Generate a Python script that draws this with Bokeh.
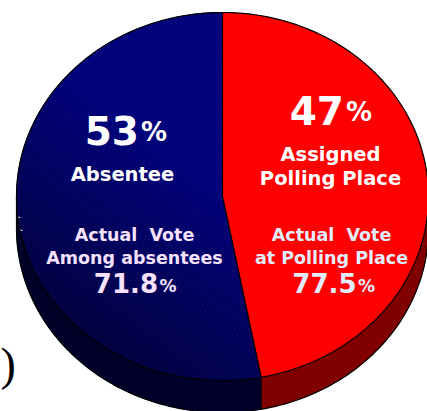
import numpy as np
from bokeh.plotting import figure
from bokeh.models import Range1d, ColumnDataSource
from bokeh.core.properties import value
from bokeh.embed import file_html
from bokeh.resources import INLINE

# ---------------- data ----------------
categories = ["Assigned Polling Place", "Absentee"]
category_lines = [["Assigned", "Polling Place"], ["Absentee"]]
shares = [47, 53]
turnout_lines = [["Actual\u00a0 Vote", "at Polling Place"], ["Actual\u00a0 Vote", "Among absentees"]]
turnout = [77.5, 71.8]

# ---------------- style / layout ----------------
W, H = 427, 411
CX, CY, RX, RY, DEPTH = 222, 196, 206, 184, 32
top_colors = ["#ff0000", None]          # None -> gradient navy
side_colors = ["#800000", "#000028"]
FONT = "DejaVu Sans"

p = figure(width=W, height=H, x_range=Range1d(0, W), y_range=Range1d(H, 0),
           output_backend="svg", toolbar_location=None, min_border=0)
p.axis.visible = False
p.grid.visible = False
p.outline_line_color = None
p.background_fill_color = "white"
p.border_fill_color = "white"


def ell(t, dy=0.0):
    t = np.asarray(t)
    return CX + RX * np.sin(t), CY - RY * np.cos(t) + dy


def clip(poly, nx, ny, c):
    """keep part of polygon where nx*x+ny*y <= c"""
    out = []
    n = len(poly)
    for i in range(n):
        a = poly[i]
        b = poly[(i + 1) % n]
        fa = nx * a[0] + ny * a[1] - c
        fb = nx * b[0] + ny * b[1] - c
        if fa <= 0:
            out.append(a)
        if (fa < 0 < fb) or (fb < 0 < fa):
            r = fa / (fa - fb)
            out.append((a[0] + r * (b[0] - a[0]), a[1] + r * (b[1] - a[1])))
    return out


total = float(sum(shares))
bounds = []
acc = 0.0
for s in shares:
    a0 = 2 * np.pi * acc / total
    acc += s
    a1 = 2 * np.pi * acc / total
    bounds.append((a0, a1))

# ---------- sides ----------
side_xs, side_ys, side_fc = [], [], []
for (a0, a1), col in zip(bounds, side_colors):
    lo, hi = max(a0, np.pi / 2), min(a1, 3 * np.pi / 2)
    if hi <= lo:
        continue
    t = np.linspace(lo, hi, 120)
    x1, y1 = ell(t)
    x2, y2 = ell(t[::-1], DEPTH)
    side_xs.append(list(x1) + list(x2))
    side_ys.append(list(y1) + list(y2))
    side_fc.append(col)
p.patches(side_xs, side_ys, fill_color=side_fc, line_color=side_fc, line_width=0.5)

# ---------- tops ----------
for (a0, a1), col in zip(bounds, top_colors):
    t = np.linspace(a0, a1, 240)
    x, y = ell(t)
    poly = [(CX, CY)] + list(zip(x, y))
    if col is not None:
        p.patch([q[0] for q in poly], [q[1] for q in poly], fill_color=col,
                line_color=col, line_width=0.5)
    else:
        n = np.array([-0.6, 0.8])
        svals = [n[0] * (q[0] - CX) + n[1] * (q[1] - CY) for q in poly]
        smin, smax = min(svals), max(svals)
        step = 3.0
        xs, ys, fcs = [], [], []
        c = smin
        while c < smax:
            piece = clip(poly, n[0], n[1], c + step + n[0] * CX + n[1] * CY)
            piece = clip(piece, -n[0], -n[1], -(c + n[0] * CX + n[1] * CY))
            if len(piece) >= 3:
                sm = c + step / 2
                inten = int(np.clip(122 - 0.3 * max(sm, 0), 58, 122))
                colr = "#0000%02x" % inten
                xs.append([q[0] for q in piece])
                ys.append([q[1] for q in piece])
                fcs.append(colr)
            c += step
        p.patches(xs, ys, fill_color=fcs, line_color=fcs, line_width=0.8)

# ---------- outlines ----------
tt = np.linspace(0, 2 * np.pi, 400)
ox, oy = ell(tt)
p.line(ox, oy, line_color="black", line_width=1.2)
tb = np.linspace(np.pi / 2, 3 * np.pi / 2, 200)
bx, by = ell(tb, DEPTH)
p.line(bx, by, line_color="black", line_width=1.2)
for tv in (np.pi / 2, 3 * np.pi / 2):
    ex, ey = ell(tv)
    p.line([float(ex), float(ex)], [float(ey), float(ey) + DEPTH],
           line_color="black", line_width=1.2)
for (a0, a1) in bounds:
    ex, ey = ell(a0)
    p.line([CX, float(ex)], [CY, float(ey)], line_color="black", line_width=1.2)
    if np.pi / 2 < a0 < 3 * np.pi / 2:
        p.line([float(ex), float(ex)], [float(ey), float(ey) + DEPTH],
               line_color="black", line_width=1.0)

# ---------- labels ----------
lay = [
    dict(sx=344, sy=110, cat_x=330, cat_y=[154, 178], act_x=331, act_y=[234, 257],
         tx=356, ty=282, tcol="#e2eeff"),
    dict(sx=139, sy=130, cat_x=122, cat_y=[174], act_x=134, act_y=[234, 257],
         tx=157.5, ty=282, tcol="#f6e2ff"),
]

txt = dict(x=[], y=[], text=[], size=[], color=[], align=[])


def add(x, y, t, size, color, align):
    txt["x"].append(x); txt["y"].append(y); txt["text"].append(t)
    txt["size"].append(size); txt["color"].append(color); txt["align"].append(align)


for i, L in enumerate(lay):
    add(L["sx"] - 0.5, L["sy"], f"{shares[i]}", "39px", "white", "right")
    add(L["sx"] + 1.5, L["sy"] + 1, "%", "26px", "white", "left")
    for line, yy in zip(category_lines[i], L["cat_y"]):
        add(L["cat_x"], yy, line, "19.5px", "white", "center")
    for line, yy in zip(turnout_lines[i], L["act_y"]):
        add(L["act_x"], yy, line, "17.5px", L["tcol"], "center")
    add(L["tx"], L["ty"], f"{turnout[i]}", "26px", L["tcol"], "right")
    add(L["tx"] + 1.5, L["ty"] + 3, "%", "17px", L["tcol"], "left")

src = ColumnDataSource(txt)
p.text(x="x", y="y", text="text", text_font_size="size", text_color="color",
       text_align="align", text_baseline="alphabetic", text_font=value(FONT),
       text_font_style="bold", source=src)

# stray parenthesis at left edge
p.text(x=[0], y=[364], text=[")"], text_font=value("Liberation Serif"),
       text_font_size="46px", text_color="black", text_align="left",
       text_baseline="alphabetic")

open("out.html", "w").write(file_html(p, INLINE))
